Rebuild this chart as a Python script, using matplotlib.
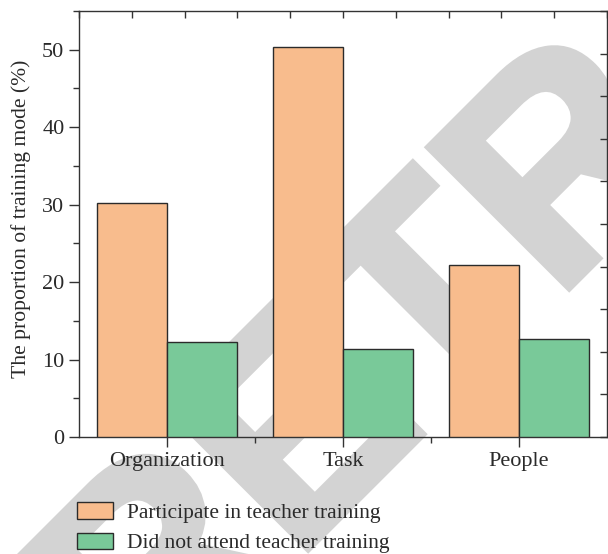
import numpy as np
import matplotlib.pyplot as plt
import matplotlib.patheffects as pe
from matplotlib.ticker import FixedLocator, MultipleLocator

# training mode shares (%)
categories = ['Organization', 'Task', 'People']
participate = [30.2, 50.3, 22.2]
not_attend = [12.3, 11.4, 12.7]
series_names = ['Participate in teacher training', 'Did not attend teacher training']

orange = '#f8bc8d'
green = '#79c999'
edge = '#2b2b2b'
ink = '#2a2a2a'
stamp = '#d3d3d3'

plt.rcParams['font.family'] = ['Liberation Serif', 'DejaVu Serif']

fig = plt.figure(figsize=(6.08, 5.54), dpi=100)
ax = fig.add_axes([79 / 608, 1 - 437 / 554, 528 / 608, 426 / 554])
ax.patch.set_alpha(0)

# big stamp across the page, behind everything
fig.text(147 / 608, 1 - 710 / 554, 'RETRACTED', rotation=45, rotation_mode='anchor',
         fontsize=208, color=stamp, family='Liberation Sans', fontweight='bold',
         ha='left', va='baseline', zorder=-5,
         path_effects=[pe.withStroke(linewidth=5, foreground=stamp, joinstyle='miter')])

x = np.arange(len(categories))
w = 0.4
ax.bar(x - w / 2, participate, w, color=orange, edgecolor=edge, linewidth=1.0,
       label=series_names[0], zorder=3)
ax.bar(x + w / 2, not_attend, w, color=green, edgecolor=edge, linewidth=1.0,
       label=series_names[1], zorder=3)

ax.set_xlim(-0.5, 2.5)
ax.set_ylim(0, 55)
ax.set_xticks(x)
ax.set_xticklabels(categories, fontsize=16)
ax.xaxis.set_minor_locator(FixedLocator([0.5, 1.5]))
ax.yaxis.set_major_locator(MultipleLocator(10))
ax.yaxis.set_minor_locator(MultipleLocator(5))
ax.tick_params(axis='both', which='major', direction='out', length=7, width=1,
               color='#333333', labelsize=16, labelcolor=ink)
ax.tick_params(axis='both', which='minor', direction='out', length=4, width=1,
               color='#333333')
ax.set_ylabel('The proportion of training mode (%)', fontsize=15.6, color=ink)
ax.yaxis.set_label_coords(-0.09, 0.512)

for s in ax.spines.values():
    s.set_linewidth(1.0)
    s.set_color('#333333')

# opposite axes carry only inward ticks
top = ax.secondary_xaxis('top')
top.set_xticks(np.arange(-0.5, 2.51, 0.3))
top.tick_params(direction='in', length=5, width=1, color='#333333', labeltop=False)
top.spines['top'].set_visible(False)
right = ax.secondary_yaxis('right')
right.set_yticks(np.arange(0, 55.1, 5.5))
right.tick_params(direction='in', length=5, width=1, color='#333333', labelright=False)
right.spines['right'].set_visible(False)

handles, labels = ax.get_legend_handles_labels()
fig.legend(handles, labels, loc='upper left', bbox_to_anchor=(58 / 608, 1 - 483 / 554),
           frameon=False, fontsize=15.5, handlelength=1.65, handleheight=0.8,
           labelspacing=0.45, handletextpad=0.65, labelcolor=ink)

fig.savefig('out.png', dpi=100)
